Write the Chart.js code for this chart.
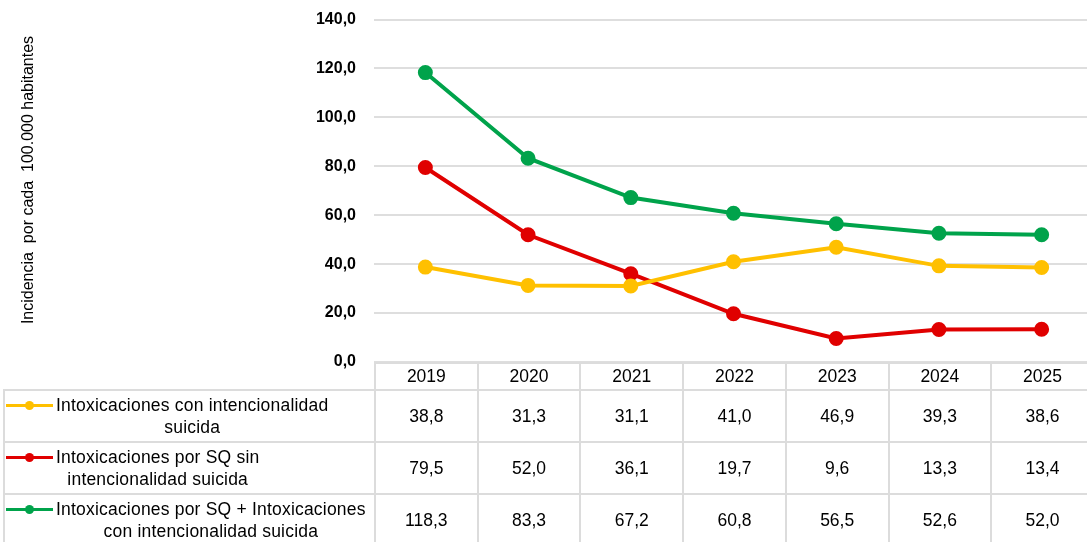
<!DOCTYPE html>
<html>
<head>
<meta charset="utf-8">
<script src="https://cdn.jsdelivr.net/npm/chart.js@4.4.1/dist/chart.umd.min.js"></script>
<style>
    html, body { margin: 0; padding: 0; background: #fff; overflow: hidden; }
    #wrap { position: relative; width: 1093px; height: 542px; font-family: "Liberation Sans", Arial, sans-serif; }
    #lineChart { position: absolute; left: 0; top: 0; }
    #tbl { position: absolute; left: 3px; top: 362px; border-collapse: collapse; table-layout: fixed; }
    #tbl td { border: 2px solid #dcdcdc; padding: 0; text-align: center; color: #000; font-size: 17.5px; }
    #tbl tr.head td { height: 25px; }
    #tbl tr.head td.corner { border-top: none; border-left: none; }
    #tbl tr.row td { height: 50px; }
    #tbl td.name { text-align: left; font-size: 17.5px; letter-spacing: 0.2px; line-height: 22px; }
    .lg { display: flex; align-items: flex-start; padding-left: 1px; }
    .mk { position: relative; flex: 0 0 47px; height: 22px; margin-right: 3px; }
    .mk::before { content: ""; position: absolute; left: 0; right: 0; top: 10px; height: 3px; background: var(--c); }
    .mk::after { content: ""; position: absolute; left: 19px; top: 7px; width: 9px; height: 9px; border-radius: 50%; background: var(--c); }
    .txt { display: inline-block; white-space: pre-line; text-align: center; }
</style>
</head>
<body>
<div id="wrap">
    <canvas id="lineChart" width="1093" height="380"></canvas>
    <table id="tbl"></table>
</div>
<script>
// data
const years = ['2019', '2020', '2021', '2022', '2023', '2024', '2025'];
const seriesNames = [
    'Intoxicaciones con intencionalidad\nsuicida',
    'Intoxicaciones por SQ sin\nintencionalidad suicida',
    'Intoxicaciones por SQ + Intoxicaciones\ncon intencionalidad suicida'
];
const conIntencion = [38.8, 31.3, 31.1, 41.0, 46.9, 39.3, 38.6];
const sinIntencion = [79.5, 52.0, 36.1, 19.7, 9.6, 13.3, 13.4];
const totalSQ = [118.3, 83.3, 67.2, 60.8, 56.5, 52.6, 52.0];
const seriesColors = ['#FFC000', '#E00000', '#00A34B'];
const yTicks = [0, 20, 40, 60, 80, 100, 120, 140];
const yTitle = 'Incidencia  por cada  100.000 habitantes';

const fmt = v => v.toFixed(1).replace('.', ',');
const allSeries = [conIntencion, sinIntencion, totalSQ];

// rotated axis title, placed like the Excel one (a bit above the plot centre)
const yTitlePlugin = {
    id: 'yTitle',
    afterDraw(chart) {
        const ctx = chart.ctx;
        ctx.save();
        ctx.translate(29, 180);
        ctx.rotate(-Math.PI / 2);
        ctx.font = '16px "Liberation Sans"';
        ctx.fillStyle = '#000';
        ctx.textAlign = 'center';
        ctx.textBaseline = 'middle';
        ctx.fillText(yTitle, 0, 0);
        ctx.restore();
    }
};

function renderChart() {
    const ctx = document.getElementById('lineChart').getContext('2d');
    return new Chart(ctx, {
        type: 'line',
        data: {
            labels: years,
            datasets: allSeries.map((vals, i) => ({
                label: seriesNames[i].replace('\n', ' '),
                data: vals,
                borderColor: seriesColors[i],
                backgroundColor: seriesColors[i],
                borderWidth: 4,
                pointRadius: 5.5,
                pointHoverRadius: 5.5,
                tension: 0,
                clip: false
            }))
        },
        options: {
            responsive: false,
            animation: false,
            layout: { autoPadding: false, padding: { top: 19.5, bottom: 18, left: 0, right: 0 } },
            plugins: {
                legend: { display: false },
                tooltip: { enabled: false }
            },
            scales: {
                x: {
                    display: false,
                    offset: true
                },
                y: {
                    min: yTicks[0],
                    max: yTicks[yTicks.length - 1],
                    afterBuildTicks: scale => {
                        scale.ticks = yTicks.map(v => ({ value: v }));
                    },
                    afterFit: scale => {
                        scale.width = 374;
                        // tick padding would otherwise push the plot down
                        scale.paddingTop = 0;
                        scale.paddingBottom = 0;
                    },
                    border: { display: false },
                    grid: { color: '#dedede', lineWidth: 2, drawTicks: false },
                    ticks: {
                        padding: 18,
                        color: '#000',
                        font: { family: 'Liberation Sans', size: 16, weight: 'bold' },
                        callback: v => fmt(v)
                    }
                }
            }
        },
        plugins: [yTitlePlugin]
    });
}

function renderTable(chart) {
    const tbl = document.getElementById('tbl');
    const area = chart.chartArea;
    const colW = (area.right - area.left) / years.length;
    const firstW = area.left - 3;

    let html = '<colgroup><col style="width:' + firstW + 'px">';
    years.forEach(() => { html += '<col style="width:' + colW + 'px">'; });
    html += '</colgroup>';

    html += '<tr class="head"><td class="corner"></td>';
    years.forEach(y => { html += '<td>' + y + '</td>'; });
    html += '</tr>';

    allSeries.forEach((vals, i) => {
        html += '<tr class="row"><td class="name"><div class="lg">' +
            '<span class="mk" style="--c:' + seriesColors[i] + '"></span>' +
            '<span class="txt">' + seriesNames[i] + '</span></div></td>';
        vals.forEach(v => { html += '<td>' + fmt(v) + '</td>'; });
        html += '</tr>';
    });
    tbl.innerHTML = html;
    tbl.style.width = (firstW + colW * years.length) + 'px';
}

window.addEventListener('DOMContentLoaded', () => {
    const chart = renderChart();
    renderTable(chart);
});
</script>
</body>
</html>
